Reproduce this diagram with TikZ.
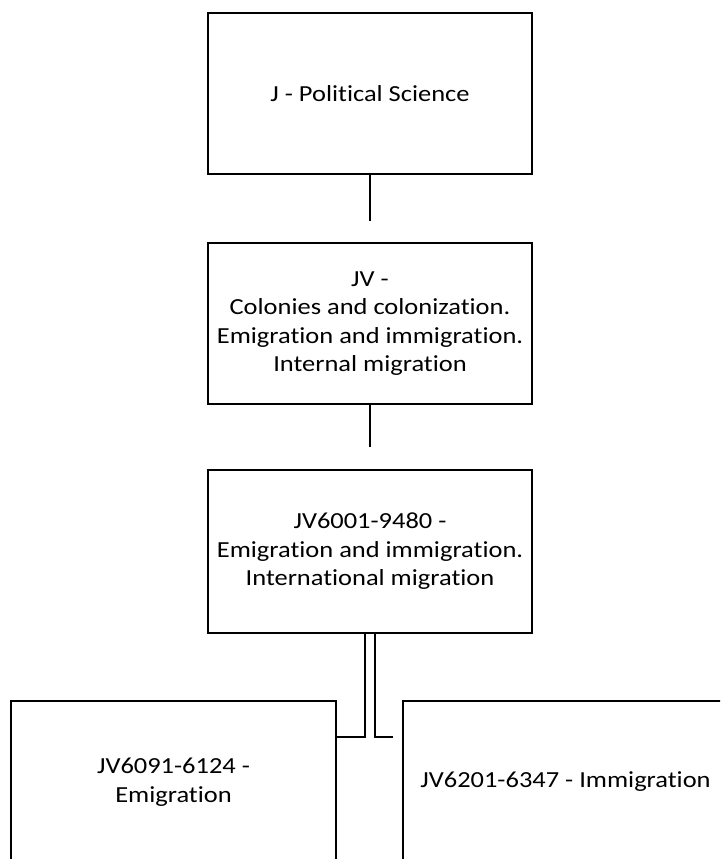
\documentclass[tikz,border=0pt]{standalone}
\usepackage{fontspec}
\setmainfont{Carlito}[FakeStretch=1.15,Ligatures=NoCommon]
\tikzset{
  box/.style={draw, line width=2.6pt, minimum width=324pt, minimum height=161pt,
    inner sep=0pt, align=center, font=\fontsize{23}{28.5}\selectfont},
  link/.style={line width=2.6pt}
}
\begin{document}
\begin{tikzpicture}[x=1pt,y=-1pt]
      \useasboundingbox (0,0) rectangle (720,859);
      \clip (0,0) rectangle (720,859);
      \node[box] at (370,93.5)  (J) {J - Political Science};
      \node[box] at (370,323.5) (JV) {JV -\\Colonies and colonization.\\Emigration and immigration.\\Internal migration};
      \node[box,minimum height=163pt] at (370,551.5) (JVmig) {JV6001-9480 -\\Emigration and immigration.\\International migration};
      \node[box,minimum width=325pt,minimum height=162pt] at (173.5,782) (JVemi) {JV6091-6124 -\\Emigration};
      \node[box,minimum width=325pt,minimum height=162pt] at (565.5,782) (JVimm) {JV6201-6347 - Immigration};
      \coordinate (a) at (370,221);
      \coordinate (b) at (370,447);
      \coordinate (c) at (393,737);
      \draw[link] (J) -- (a);
      \draw[link] (JV) -- (b);
      \draw[link] ([xshift=-5pt]JVmig.south) |- (JVemi.east |- 0,737);
      \draw[link] ([xshift=5pt]JVmig.south) |- (c);
    \end{tikzpicture}
\end{document}
